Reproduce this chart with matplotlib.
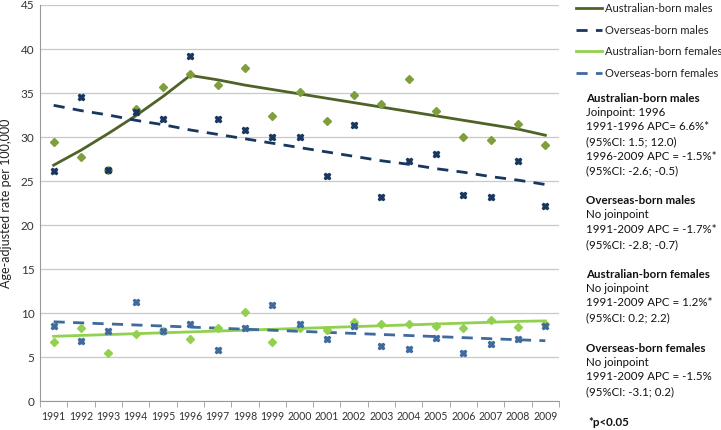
import matplotlib
matplotlib.use("Agg")
import matplotlib.pyplot as plt
import numpy as np

years = [str(y) for y in range(1991, 2010)]

ab_males = [29.4, 27.7, 26.3, 33.2, 35.7, 37.2, 35.9, 37.8, 32.4, 35.1, 31.8, 34.8, 33.7, 36.6, 33.0, 30.0, 29.7, 31.5, 29.1]
ob_males = [26.1, 34.6, 26.3, 32.8, 32.0, 39.2, 32.1, 30.8, 30.0, 30.0, 25.6, 31.4, 23.2, 27.3, 28.1, 23.4, 23.2, 27.3, 22.2]
ab_females = [6.7, 8.3, 5.4, 7.6, 8.0, 7.0, 8.3, 10.1, 6.7, 8.3, 8.1, 9.0, 8.8, 8.8, 8.5, 8.3, 9.2, 8.4, 8.7]
ob_females = [8.5, 6.8, 8.0, 11.3, 8.0, 8.8, 5.8, 8.3, 10.9, 8.8, 7.1, 8.5, 6.2, 5.9, 7.2, 5.5, 6.5, 7.0, 8.5]

ab_males_fit = [26.8, 28.5, 30.4, 32.4, 34.6, 37.0, 36.5, 35.9, 35.4, 34.9, 34.4, 33.9, 33.4, 32.9, 32.4, 31.9, 31.4, 30.9, 30.2]
ob_males_fit = [33.6, 33.0, 32.5, 31.9, 31.4, 30.8, 30.3, 29.8, 29.3, 28.8, 28.3, 27.8, 27.3, 26.9, 26.4, 26.0, 25.5, 25.1, 24.6]
ab_females_fit = [7.35, 7.45, 7.55, 7.65, 7.75, 7.85, 7.95, 8.05, 8.15, 8.25, 8.35, 8.45, 8.55, 8.65, 8.75, 8.85, 8.95, 9.05, 9.1]
ob_females_fit = [9.0, 8.88, 8.76, 8.64, 8.52, 8.4, 8.28, 8.16, 8.04, 7.92, 7.8, 7.68, 7.56, 7.44, 7.32, 7.2, 7.08, 6.96, 6.85]

plt.rcParams['font.family'] = ['Lato', 'DejaVu Sans']

fig = plt.figure(figsize=(7.21, 4.30), dpi=100)
ax = fig.add_axes([40/721, 1-401/430, (559-40)/721, (401-5)/430])

x = np.arange(len(years))
c_abm_line = '#4F6228'
c_abm_mk = '#7F9F3F'
c_obm = '#17375E'
c_abf = '#92D050'
c_obf = '#3E6A9E'

ax.plot(x, ab_males, linestyle='none', marker='D', ms=4, color=c_abm_mk, zorder=3)
ax.plot(x, ob_males, linestyle='none', marker='X', ms=4.5, color=c_obm, zorder=3)
ax.plot(x, ab_females, linestyle='none', marker='D', ms=4, color=c_abf, zorder=3)
ax.plot(x, ob_females, linestyle='none', marker='X', ms=5, color=c_obf, zorder=3)

l1, = ax.plot(x, ab_males_fit, color=c_abm_line, lw=2, zorder=2)
l2, = ax.plot(x, ob_males_fit, color=c_obm, lw=2, linestyle=(0, (4, 3)), zorder=2)
l3, = ax.plot(x, ab_females_fit, color=c_abf, lw=2, zorder=2)
l4, = ax.plot(x, ob_females_fit, color=c_obf, lw=2, linestyle=(0, (4, 3)), zorder=2)

ax.set_xlim(-0.5, len(years) - 0.5)
ax.set_ylim(0, 45)
ax.set_yticks(np.arange(0, 46, 5))
ax.set_xticks(x)
ax.set_xticklabels(years)
ax.set_xticks(np.arange(-0.5, len(years), 1), minor=True)
ax.tick_params(axis='x', which='major', length=0, labelsize=7.6, pad=7, colors='#333333')
ax.tick_params(axis='x', which='minor', length=4, color='#999999', direction='out')
ax.tick_params(axis='y', length=0, labelsize=8.5, colors='#333333', pad=4)
ax.yaxis.grid(True, color='#C8C8C8', lw=0.9)
ax.set_axisbelow(True)
for s in ['top', 'right']:
    ax.spines[s].set_visible(False)
ax.spines['left'].set_color('#999999')
ax.spines['bottom'].set_color('#999999')
ax.set_ylabel('Age-adjusted rate per 100,000', fontsize=9, color='#222222', labelpad=6)

leg = fig.legend([l1, l2, l3, l4],
                 ['Australian-born males', 'Overseas-born males', 'Australian-born females', 'Overseas-born females'],
                 loc='upper left', bbox_to_anchor=(574/721, 1 - 1/430), frameon=False,
                 fontsize=8, handlelength=2.3, handletextpad=0.25, labelspacing=0.95, borderaxespad=0,
                 borderpad=0.2)
for t in leg.get_texts():
    t.set_color('#222222')

tx = 586/721
def txt(y, s, bold=False):
    fig.text(tx, 1 - y/430, s, fontsize=8.3, fontweight='bold' if bold else 'normal',
             va='center', ha='left', color='#111111')

txt(98, 'Australian-born males', True)
txt(113, 'Joinpoint: 1996')
txt(127, '1991-1996 APC= 6.6%*')
txt(142, '(95%CI: 1.5; 12.0)')
txt(156, '1996-2009 APC = -1.5%*')
txt(171, '(95%CI: -2.6; -0.5)')
txt(201, 'Overseas-born males', True)
txt(215, 'No joinpoint')
txt(230, '1991-2009 APC = -1.7%*')
txt(245, '(95%CI: -2.8; -0.7)')
txt(274, 'Australian-born females', True)
txt(289, 'No joinpoint')
txt(303, '1991-2009 APC = 1.2%*')
txt(318, '(95%CI: 0.2; 2.2)')
txt(348, 'Overseas-born females', True)
txt(363, 'No joinpoint')
txt(377, '1991-2009 APC = -1.5%')
txt(392, '(95%CI: -3.1; 0.2)')
fig.text(588/721, 1 - 422/430, '*p<0.05', fontsize=8.3, fontweight='bold', va='center', ha='left', color='#111111')

fig.savefig('out.png', dpi=100)
